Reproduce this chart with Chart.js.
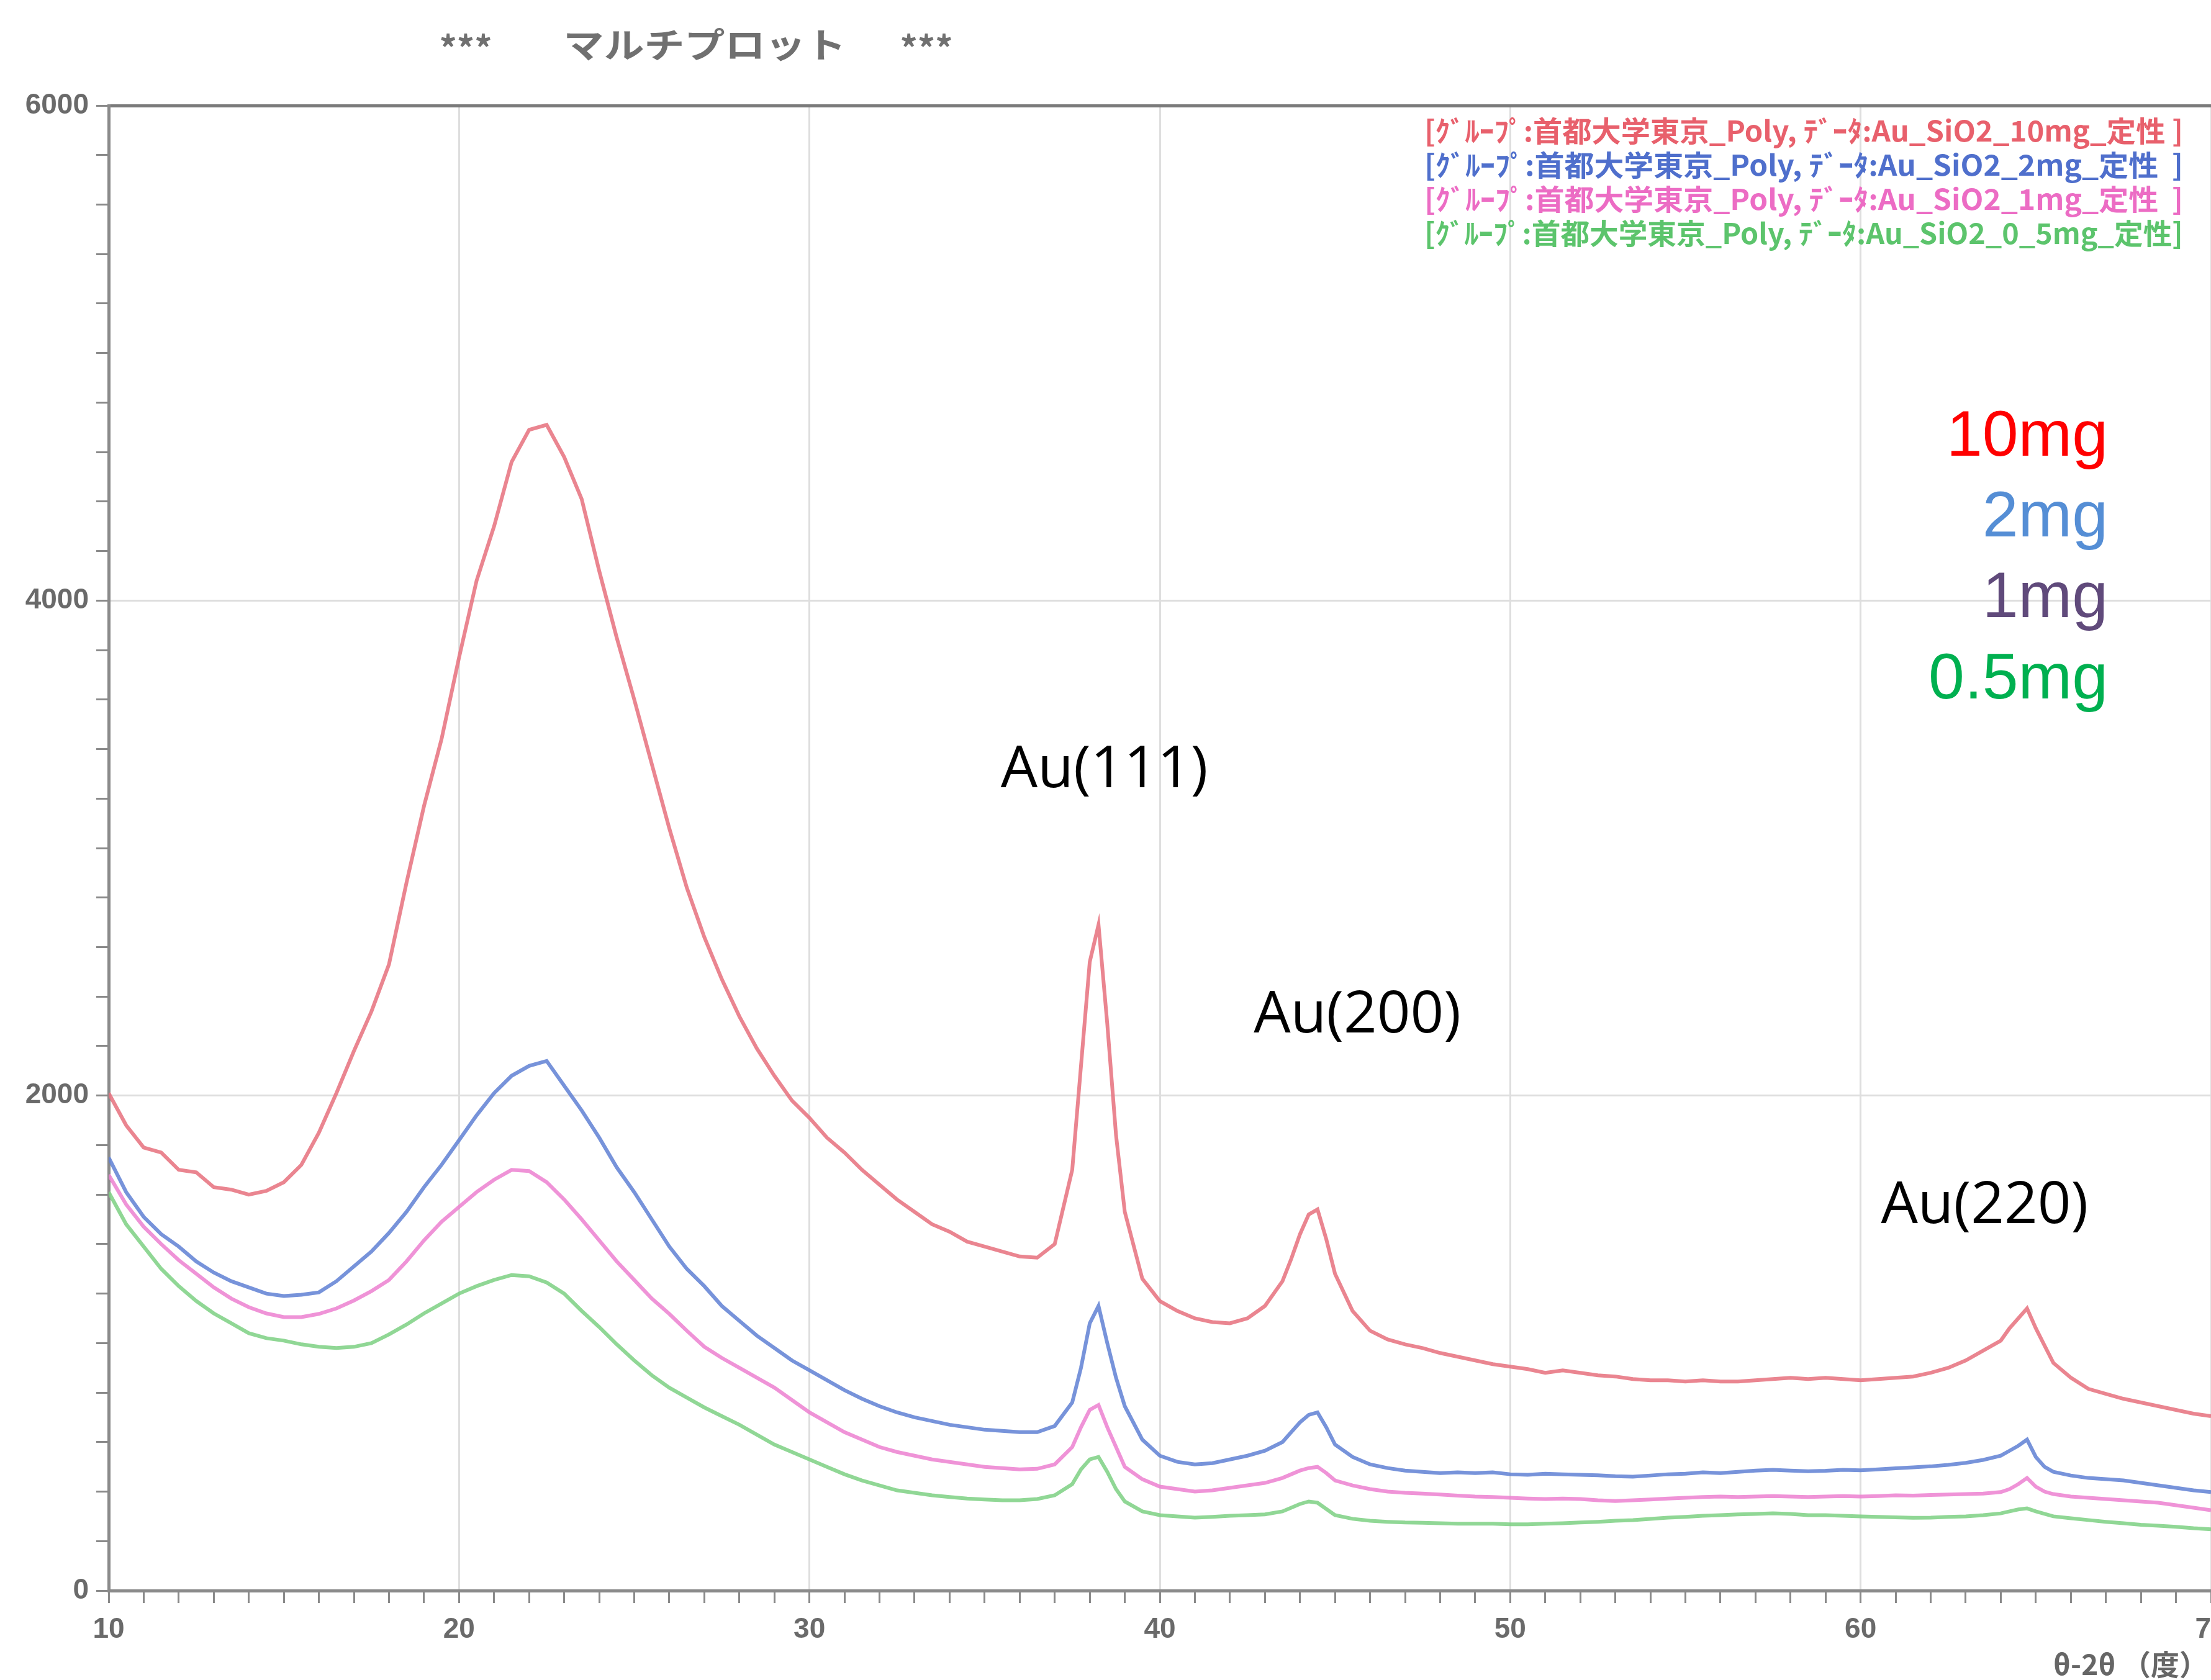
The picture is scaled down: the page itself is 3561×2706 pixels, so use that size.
<!DOCTYPE html>
<html>
<head>
<meta charset="utf-8">
<script src="https://cdn.jsdelivr.net/npm/chart.js@4.4.1/dist/chart.umd.min.js"></script>
<style>
  html, body { margin: 0; padding: 0; background: #fff; }
  #wrap { width: 3561px; height: 2706px; }
</style>
</head>
<body>
<div id="wrap"><canvas id="xrd"></canvas></div>
<script>
// 2theta (deg) - finer steps around the Au peaks
var theta = [
  10,10.5,11,11.5,12,12.5,13,13.5,14,14.5,15,15.5,16,16.5,17,17.5,18,18.5,19,19.5,
  20,20.5,21,21.5,22,22.5,23,23.5,24,24.5,25,25.5,26,26.5,27,27.5,28,28.5,29,29.5,
  30,30.5,31,31.5,32,32.5,33,33.5,34,34.5,35,35.5,36,36.5,37,37.5,
  37.75,38,38.25,38.5,38.75,39,
  39.5,40,40.5,41,41.5,42,42.5,43,43.5,
  43.75,44,44.25,44.5,44.75,45,
  45.5,46,46.5,47,47.5,48,48.5,49,49.5,
  50,50.5,51,51.5,52,52.5,53,53.5,54,54.5,
  55,55.5,56,56.5,57,57.5,58,58.5,59,59.5,
  60,60.5,61,61.5,62,62.5,63,63.5,64,
  64.25,64.5,64.75,65,65.25,65.5,
  66,66.5,67,67.5,68,68.5,69,69.5,70
];

var mg10 = [
  2010,1880,1790,1770,1700,1690,1630,1620,1600,1615,1650,1720,1850,2010,2180,2340,2530,2860,3170,3440,
  3770,4080,4300,4560,4690,4710,4580,4410,4120,3850,3600,3340,3080,2840,2640,2470,2320,2190,2080,1980,
  1910,1830,1770,1700,1640,1580,1530,1480,1450,1410,1390,1370,1350,1345,1400,1700,
  2120,2540,2690,2290,1840,1530,
  1260,1170,1130,1100,1085,1080,1100,1150,1250,
  1340,1440,1520,1540,1420,1280,
  1130,1050,1015,995,980,960,945,930,915,
  905,895,880,890,880,870,865,855,850,850,
  845,850,845,845,850,855,860,855,860,855,
  850,855,860,865,880,900,930,970,1010,
  1060,1100,1140,1060,990,920,
  860,815,795,775,760,745,730,715,705
];

var mg2 = [
  1750,1610,1510,1440,1390,1330,1285,1250,1225,1200,1190,1195,1205,1250,1310,1370,1445,1530,1630,1720,
  1820,1920,2010,2080,2120,2140,2040,1940,1830,1710,1610,1500,1390,1300,1230,1150,1090,1030,980,930,
  890,850,810,775,745,720,700,685,670,660,650,645,640,640,665,760,
  900,1080,1150,1000,860,745,
  610,545,520,510,515,530,545,565,600,
  640,680,710,720,660,590,
  540,510,495,485,480,475,478,475,478,
  470,468,472,470,468,466,462,460,465,470,
  472,478,475,480,485,488,485,482,484,488,
  486,490,494,498,502,508,516,528,545,
  565,585,610,540,500,480,
  465,455,450,445,435,425,415,405,398
];

var mg1 = [
  1680,1560,1470,1400,1335,1280,1225,1180,1145,1120,1105,1105,1118,1140,1172,1210,1255,1330,1415,1490,
  1550,1610,1660,1700,1695,1650,1580,1500,1415,1330,1255,1180,1118,1050,985,940,900,860,820,770,
  720,680,640,610,580,560,545,530,520,510,500,495,490,492,510,580,
  660,730,750,660,580,500,
  450,420,410,400,405,415,425,435,455,
  470,485,495,500,475,445,
  425,410,400,395,392,388,384,380,378,
  375,372,370,372,370,365,362,365,368,372,
  375,378,380,378,380,382,380,378,380,382,
  380,382,385,384,386,388,390,392,398,
  410,430,455,420,400,390,
  380,375,370,365,360,355,345,335,325
];

var mg05 = [
  1610,1480,1390,1300,1230,1170,1120,1080,1040,1020,1010,995,985,980,985,1000,1035,1075,1120,1160,
  1200,1230,1255,1275,1270,1245,1200,1130,1065,995,930,870,820,780,740,705,670,630,590,560,
  530,500,470,445,425,405,395,385,378,372,368,365,365,370,385,430,
  490,530,540,480,410,360,
  320,305,300,295,298,302,305,308,320,
  335,350,360,355,330,305,
  290,282,278,275,274,272,270,270,270,
  268,268,270,272,275,278,282,285,290,295,
  298,302,305,308,310,312,310,305,305,302,
  300,298,296,294,295,298,300,305,312,
  320,328,332,320,310,300,
  292,285,278,272,266,262,258,252,248
];

var seriesNames = [
  '[ｸﾞﾙｰﾌﾟ:首都大学東京_Poly, ﾃﾞｰﾀ:Au_SiO2_10mg_定性 ]',
  '[ｸﾞﾙｰﾌﾟ:首都大学東京_Poly, ﾃﾞｰﾀ:Au_SiO2_2mg_定性  ]',
  '[ｸﾞﾙｰﾌﾟ:首都大学東京_Poly, ﾃﾞｰﾀ:Au_SiO2_1mg_定性  ]',
  '[ｸﾞﾙｰﾌﾟ:首都大学東京_Poly, ﾃﾞｰﾀ:Au_SiO2_0_5mg_定性]'
];
var massLabels = ['10mg', '2mg', '1mg', '0.5mg'];
var massLabelY = [4586, 4258, 3932, 3604];
var peakLabels = ['Au(111)', 'Au(200)', 'Au(220)'];
var peakLabelX = [35.46, 42.68, 60.58];
var peakLabelY = [3246, 2256, 1486];

var lineColors = ['rgba(230,112,124,0.85)', 'rgba(95,128,212,0.85)', 'rgba(236,128,208,0.85)', 'rgba(125,208,130,0.85)'];
var legendColors = ['#e8606c', '#4f6fcc', '#ec6cc4', '#5cc46c'];
var massColors = ['#ff0000', '#558ed5', '#604a7b', '#00b050'];

function pts(ys) {
  var out = [];
  for (var i = 0; i < theta.length; i++) out.push({ x: theta[i], y: ys[i] });
  return out;
}

var allSeries = [mg10, mg2, mg1, mg05];
var datasets = [];
for (var i = 0; i < allSeries.length; i++) {
  datasets.push({
    label: seriesNames[i],
    data: pts(allSeries[i]),
    borderColor: lineColors[i],
    borderWidth: 6,
    pointRadius: 0,
    tension: 0,
    fill: false
  });
}

var textPlugin = {
  id: 'xrdText',
  afterDraw: function (chart) {
    var ctx = chart.ctx;
    var xs = chart.scales.x, ys = chart.scales.y;
    ctx.save();

    // header
    ctx.fillStyle = '#707070';
    ctx.textAlign = 'center';
    ctx.textBaseline = 'middle';
    ctx.font = 'bold 56px "Noto Sans CJK JP"';
    ctx.fillText('***', 750, 78);
    ctx.fillText('***', 1492, 78);
    ctx.save();
    ctx.translate(1135, 72);
    var tw = ctx.measureText('マルチプロット').width;
    ctx.scale(455 / tw, 1);
    ctx.fillText('マルチプロット', 0, 0);
    ctx.restore();

    // instrument legend, top right
    ctx.textAlign = 'left';
    ctx.font = 'bold 46px "Noto Sans CJK JP"';
    chart.data.datasets.forEach(function (ds, k) {
      var w = ctx.measureText(ds.label).width;
      ctx.save();
      ctx.translate(2294, 211 + k * 54.7);
      ctx.scale(1222 / w, 1);
      ctx.fillStyle = legendColors[k];
      ctx.fillText(ds.label, 0, 0);
      ctx.restore();
    });

    // sample mass labels
    ctx.textAlign = 'right';
    ctx.textBaseline = 'alphabetic';
    ctx.font = '104px "Liberation Sans"';
    massLabels.forEach(function (t, k) {
      ctx.fillStyle = massColors[k];
      ctx.fillText(t, xs.getPixelForValue(67.06), ys.getPixelForValue(massLabelY[k]));
    });

    // peak labels
    ctx.textAlign = 'left';
    ctx.fillStyle = '#000';
    ctx.font = '94px "Open Sans"';
    peakLabels.forEach(function (t, k) {
      ctx.fillText(t, xs.getPixelForValue(peakLabelX[k]), ys.getPixelForValue(peakLabelY[k]));
    });

    // x axis title
    ctx.textAlign = 'right';
    ctx.fillStyle = '#666';
    ctx.font = 'bold 46px "Noto Sans CJK JP"';
    ctx.fillText('θ-2θ （度）', 3556, 2698);

    ctx.restore();
  }
};

var tickFont = { family: '"Liberation Sans", Arial, sans-serif', size: 46, weight: 'bold' };

new Chart(document.getElementById('xrd'), {
  type: 'line',
  data: { datasets: datasets },
  options: {
    responsive: true,
    maintainAspectRatio: false,
    devicePixelRatio: 1,
    animation: false,
    layout: { padding: { top: 170, left: 0, right: 0, bottom: 0 }, autoPadding: false },
    plugins: { legend: { display: false }, tooltip: { enabled: false }, title: { display: false } },
    scales: {
      x: {
        type: 'linear',
        min: 10,
        max: 70,
        afterFit: function (s) { s.height = 144; s.paddingLeft = 0; s.paddingRight = 0; },
        border: { color: '#8a8a8a', width: 5 },
        grid: {
          color: function (c) { return c.tick && c.tick.value % 10 === 0 ? '#dedede' : 'rgba(0,0,0,0)'; },
          lineWidth: 3,
          tickLength: 20,
          tickColor: '#8a8a8a',
          tickWidth: 3
        },
        ticks: {
          stepSize: 1,
          autoSkip: false,
          maxRotation: 0,
          padding: 16,
          color: '#6a6a6a',
          font: tickFont,
          callback: function (v) { return v % 10 === 0 ? v : ''; }
        }
      },
      y: {
        min: 0,
        max: 6000,
        afterFit: function (s) { s.width = 175; s.paddingTop = 0; s.paddingBottom = 0; },
        border: { color: '#8a8a8a', width: 5 },
        grid: {
          color: function (c) {
            if (!c.tick) return 'rgba(0,0,0,0)';
            if (c.tick.value === 6000) return '#7a7a7a';
            return c.tick.value % 2000 === 0 ? '#dedede' : 'rgba(0,0,0,0)';
          },
          lineWidth: function (c) { return c.tick && c.tick.value === 6000 ? 5 : 3; },
          tickLength: 20,
          tickColor: '#8a8a8a',
          tickWidth: 3
        },
        ticks: {
          stepSize: 200,
          autoSkip: false,
          padding: 12,
          color: '#6a6a6a',
          font: tickFont,
          callback: function (v) { return v % 2000 === 0 ? v : ''; }
        }
      }
    }
  },
  plugins: [textPlugin]
});
</script>
</body>
</html>
